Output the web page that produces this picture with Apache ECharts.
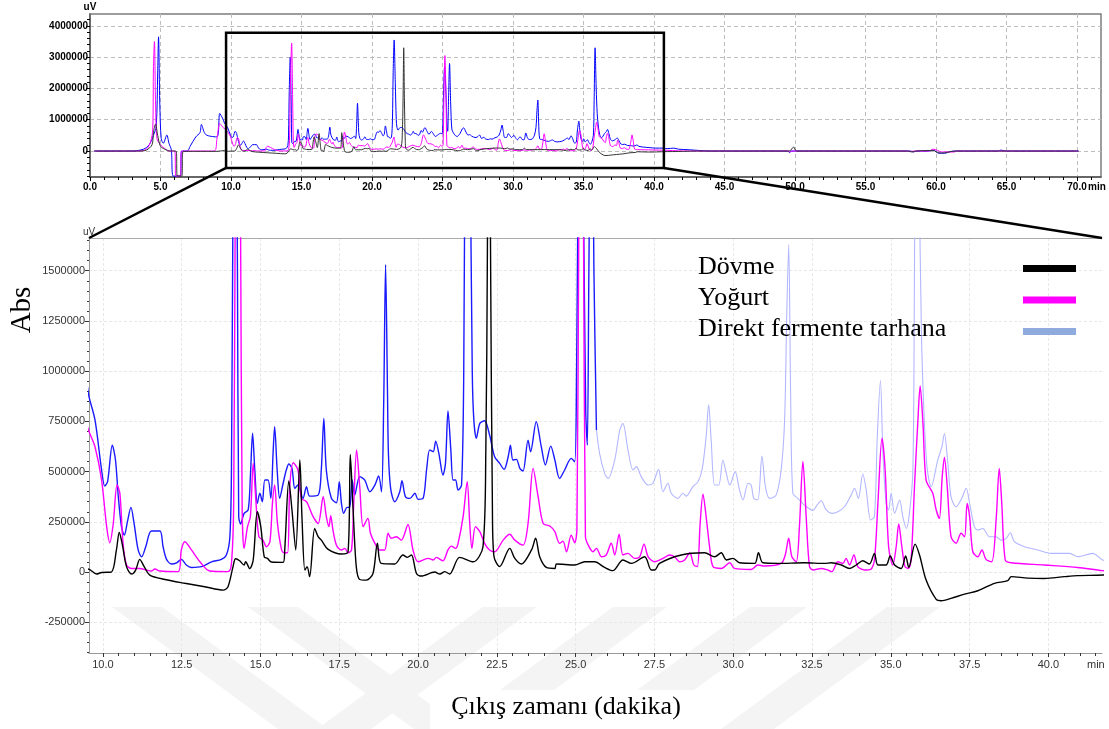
<!DOCTYPE html>
<html>
<head>
<meta charset="utf-8">
<style>
html, body { margin: 0; padding: 0; background: #fff; }
#chart { width: 1109px; height: 729px; }
</style>
<script src="https://cdn.jsdelivr.net/npm/echarts@6/dist/echarts.min.js"></script>
</head>
<body>
<div id="chart"></div>
<script>
// retention time (min), signal in thousand uV
var dovme = [
    [0.3, 0], [3.5, 0], [4.0, 30], [4.4, 200], [4.5, 600], [4.65, 860], [4.8, 500], [5.0, 150], [5.3, 60], [5.7, 0],
    [6.1, 0], [6.2, -800], [6.5, -800], [6.6, -20], [7.5, -10], [9.0, -10],
    [9.53, 15], [9.8, -10], [9.96, -2], [10.27, 0], [10.43, 110], [10.52, 197], [10.61, 143], [10.75, 27], [10.91, -10],
    [11.04, 10], [11.17, 63], [11.31, 27], [11.49, -15], [11.97, -37], [12.6, -56], [13.23, -73], [13.82, -90], [13.97, -73],
    [14.13, 27], [14.21, 66], [14.34, 56], [14.48, 35], [14.53, 51], [14.66, 17], [14.77, 60], [14.9, 300], [15.01, 226],
    [15.12, 76], [15.22, 68], [15.35, 50], [15.72, 48], [15.77, 110], [15.9, 453], [16.0, 309], [16.12, 110], [16.25, 558],
    [16.32, 259], [16.41, 10], [16.48, 27], [16.56, -23], [16.72, 217], [16.83, 176], [16.93, 159], [17.15, 113], [17.57, 90],
    [17.78, 101], [17.85, 586], [17.94, 309], [18.04, 27], [18.15, -37], [18.36, -40], [18.57, -7], [18.71, 143], [18.83, 43],
    [19.26, 40], [19.52, 85], [19.66, 73], [19.79, 85], [19.95, -7], [20.1, -20], [20.53, 0], [20.69, -10], [20.85, 2],
    [21.0, -10], [21.32, 73], [21.75, 51], [22.06, 126], [22.15, 600], [22.2, 1600], [22.25, 3300], [22.3, 1600], [22.36, 300],
    [22.41, 76], [22.59, 27], [22.91, 118], [23.07, 68], [23.28, 40], [23.6, 110], [23.73, 168], [23.86, 76], [24.07, 23],
    [24.34, 18], [24.39, 40], [24.97, 35], [25.29, 51], [25.6, 51], [25.92, 23], [26.18, 7], [26.5, 60], [26.77, 43],
    [27.19, 76], [27.4, 10], [27.51, 10], [27.66, 43], [28.35, 85], [29.09, 96], [29.41, 76], [29.62, 96], [29.78, 60],
    [29.99, 68], [30.2, 46], [30.68, 43], [30.8, 96], [30.94, 46], [31.42, 43], [32.26, 46], [32.9, 43], [33.11, 46],
    [33.43, 35], [33.69, 18], [33.9, 35], [34.11, 56], [34.32, 40], [34.48, 93], [34.59, 35], [34.85, 35], [34.98, 80],
    [35.12, 35], [35.33, 18], [35.47, 80], [35.57, 23], [35.77, 139], [35.91, 85], [36.12, -40], [36.44, -136], [36.6, -143],
    [36.91, -131], [37.34, -110], [37.76, -93], [38.29, -56], [38.71, -43], [38.82, -23], [39.34, -30], [39.87, -32],
    [40.51, -23], [40.93, -18], [41.72, -15],
    [43, 0], [49.6, 0], [49.9, 130], [50.1, 0], [58, 0], [58.3, -30], [58.6, 0], [59.8, 20], [60.2, -60], [60.6, -60],
    [61, -20], [61.5, 0], [70.1, 0]
];

var yogurt = [
    [0.3, 0], [3.5, 0], [4.0, 60], [4.3, 300], [4.45, 700], [4.5, 2700], [4.57, 3500], [4.65, 1500], [4.75, 400], [5.0, 200],
    [5.3, 80], [5.6, 0], [6.0, 0], [6.1, -800], [6.4, -800], [6.5, 0], [8.8, 0], [9.0, 380], [9.2, 880], [9.35, 800],
    [9.55, 704], [9.75, 624], [9.96, 458], [10.12, 226], [10.22, 146], [10.33, 242], [10.45, 433], [10.54, 392], [10.64, 143],
    [10.75, 35], [10.91, 18], [11.17, 18], [11.38, 10], [11.54, 5], [11.65, 15], [11.81, 5], [12.39, 2], [12.49, 110],
    [12.6, 151], [12.81, 110], [13.08, 51], [13.39, 5], [13.97, 2], [14.08, 43], [14.15, 342], [14.2, 1800], [14.3, 3450],
    [14.37, 1700], [14.42, 309], [14.48, 118], [14.59, 226], [14.68, 276], [14.77, 541], [14.86, 342], [14.95, 176],
    [15.08, 159], [15.19, 126], [15.3, 151], [15.38, 342], [15.45, 433], [15.54, 242], [15.67, 110], [15.75, 96], [15.86, 96],
    [15.93, 425], [16.04, 544], [16.19, 508], [16.3, 367], [16.46, 350], [16.67, 276], [16.83, 242], [16.99, 375], [17.09, 276],
    [17.17, 226], [17.23, 281], [17.3, 209], [17.41, 134], [17.57, 110], [17.68, 118], [17.78, 96], [17.89, 110], [17.96, 342],
    [18.05, 608], [18.15, 425], [18.26, 226], [18.41, 267], [18.49, 193], [18.63, 143], [18.78, 110], [18.94, 110], [19.05, 193],
    [19.15, 168], [19.31, 176], [19.47, 159], [19.68, 237], [19.84, 110], [20.0, 51], [20.32, 68], [20.48, 60], [20.58, 73],
    [20.79, 56], [20.95, 110], [21.06, 129], [21.19, 118], [21.27, 143], [21.43, 276], [21.56, 450], [21.64, 242], [21.71, 118],
    [21.82, 226], [21.96, 201], [22.11, 143], [22.27, 110], [22.43, 101], [22.7, 159], [22.91, 188], [23.07, 159], [23.33, 134],
    [23.49, 242], [23.65, 516], [23.81, 375], [23.97, 242], [24.18, 229], [24.34, 201], [24.49, 143], [24.6, 154], [24.71, 101],
    [24.86, 184], [24.97, 146], [25.04, 209], [25.1, 1700], [25.17, 3050], [25.25, 1700], [25.31, 176], [25.4, 134], [25.55, 101],
    [25.66, 118], [25.82, 76], [25.97, 85], [26.13, 143], [26.24, 85], [26.38, 189], [26.5, 85], [26.66, 93], [26.87, 68],
    [27.03, 76], [27.17, 139], [27.3, 76], [27.51, 51], [27.77, 68], [27.98, 85], [28.14, 76], [28.3, 51], [28.46, 60],
    [28.62, 96], [28.75, 35], [28.86, 27], [28.95, 242], [29.04, 388], [29.14, 276], [29.25, 126], [29.36, 27], [29.62, 18],
    [29.89, 46], [30.04, 18], [30.57, 13], [30.78, 35], [30.99, 30], [31.52, 43], [31.65, 85], [31.76, 168], [31.86, 76],
    [32.0, 51], [32.1, 226], [32.21, 550], [32.32, 259], [32.42, 27], [32.53, 10], [32.79, 18], [33.0, 10], [33.13, 2],
    [33.32, 51], [33.48, 43], [33.58, 68], [33.69, 35], [33.83, 85], [33.95, 27], [34.17, 10], [34.36, 13], [34.48, 60],
    [34.59, 342], [34.72, 666], [34.82, 508], [34.93, 126], [35.06, 35], [35.17, 126], [35.25, 239], [35.35, 126], [35.45, 27],
    [35.56, 18], [35.65, 76], [35.75, 425], [35.86, 757], [35.93, 926], [36.02, 740], [36.12, 458], [36.33, 392], [36.44, 309],
    [36.54, 267], [36.63, 475], [36.7, 571], [36.79, 425], [36.91, 176], [37.07, 143], [37.23, 193], [37.34, 176], [37.42, 342],
    [37.5, 276], [37.6, 101], [37.76, 76], [37.89, 110], [38.02, 63], [38.2, 51], [38.34, 259], [38.44, 516], [38.52, 342],
    [38.63, 60], [38.82, 46], [39.87, 35], [40.93, 23], [41.72, 7],
    [42.5, 0], [49.6, 0], [49.7, -30], [49.8, 0], [58, 0], [58.2, -20], [58.4, 0], [59.5, 0], [59.8, 60], [60.1, 20],
    [60.4, -30], [61.3, -30], [61.5, 0], [70.1, 0]
];

var direkt = [
    [0.3, 0], [3.0, 0], [3.8, 60], [4.2, 200], [4.5, 500], [4.7, 800], [4.8, 2500], [4.86, 3650], [4.95, 1500], [5.05, 400],
    [5.2, 250], [5.45, 510], [5.6, 250], [5.77, 35], [5.9, -800], [6.4, -800], [6.5, 0], [6.9, 0], [7.1, 150], [7.5, 450],
    [7.8, 590], [7.9, 850], [8.1, 600], [8.3, 500], [9.0, 450], [9.2, 1200], [9.4, 1050],
    [9.55, 881], [9.75, 757], [9.96, 508], [10.06, 428], [10.15, 450], [10.3, 632], [10.4, 558], [10.49, 375], [10.59, 226],
    [10.68, 184], [10.78, 251], [10.89, 322], [10.99, 242], [11.12, 110], [11.23, 76], [11.36, 126], [11.54, 204], [11.81, 204],
    [11.91, 126], [12.02, 63], [12.18, 40], [12.34, 46], [12.49, 63], [12.65, 35], [12.81, 23], [13.13, 27], [13.45, 51],
    [13.76, 63], [13.92, 85], [14.03, 176], [14.08, 508], [14.13, 1900], [14.2, 3000], [14.27, 1500], [14.31, 276], [14.37, 239],
    [14.48, 292], [14.61, 309], [14.68, 475], [14.75, 691], [14.82, 508], [14.9, 342], [14.98, 392], [15.06, 350], [15.14, 458],
    [15.24, 458], [15.33, 367], [15.4, 591], [15.45, 724], [15.53, 508], [15.61, 367], [15.72, 442], [15.82, 508], [15.9, 538],
    [16.0, 516], [16.09, 417], [16.19, 433], [16.35, 367], [16.46, 425], [16.56, 378], [16.83, 383], [16.93, 508], [17.01, 765],
    [17.09, 508], [17.25, 367], [17.41, 345], [17.5, 450], [17.57, 342], [17.64, 292], [17.75, 322], [17.83, 322], [17.91, 458],
    [17.99, 383], [18.15, 475], [18.31, 458], [18.47, 400], [18.63, 433], [18.75, 478], [18.84, 400], [18.91, 840], [18.97, 1530],
    [19.03, 900], [19.06, 591], [19.13, 417], [19.26, 350], [19.42, 400], [19.49, 455], [19.6, 375], [19.74, 367], [19.9, 392],
    [20.0, 362], [20.16, 367], [20.27, 508], [20.37, 608], [20.48, 599], [20.56, 652], [20.66, 591], [20.79, 483], [20.87, 541],
    [20.95, 802], [21.04, 608], [21.11, 458], [21.19, 458], [21.27, 408], [21.38, 433], [21.45, 1000], [21.5, 2500], [21.57, 3550],
    [21.65, 2200], [21.72, 1000], [21.77, 757], [21.85, 666], [21.96, 740], [22.11, 753], [22.27, 682], [22.43, 574], [22.59, 541],
    [22.73, 511], [22.86, 574], [22.93, 632], [23.01, 558], [23.12, 561], [23.23, 516], [23.33, 503], [23.49, 657], [23.57, 599],
    [23.75, 749], [23.91, 624], [24.04, 533], [24.21, 627], [24.34, 558], [24.49, 466], [24.65, 508], [24.86, 566], [24.97, 549],
    [25.03, 1000], [25.08, 2000], [25.15, 2700], [25.25, 1800], [25.32, 800], [25.37, 632], [25.42, 1500], [25.5, 2800],
    [25.58, 1500], [25.66, 707], [25.76, 591], [25.92, 491], [26.03, 466], [26.24, 558], [26.4, 707], [26.5, 740], [26.66, 608],
    [26.82, 508], [26.93, 525], [27.08, 475], [27.3, 433], [27.45, 442], [27.63, 511], [27.77, 400], [27.93, 442], [28.03, 392],
    [28.25, 367], [28.4, 392], [28.51, 378], [28.72, 425], [28.88, 450], [29.01, 508], [29.14, 674], [29.22, 832], [29.3, 657],
    [29.41, 433], [29.54, 433], [29.67, 558], [29.78, 491], [29.89, 433], [30.06, 500], [30.2, 408], [30.31, 359], [30.47, 442],
    [30.57, 433], [30.65, 367], [30.78, 359], [30.91, 578], [31.02, 425], [31.15, 367], [31.36, 383], [31.52, 508], [31.63, 757],
    [31.7, 1300], [31.76, 1630], [31.82, 900], [31.89, 392], [32.05, 367], [32.26, 333], [32.53, 307], [32.66, 333], [32.79, 355],
    [32.95, 309], [33.13, 292], [33.32, 300], [33.53, 325], [33.74, 383], [33.85, 417], [33.97, 367], [34.11, 488], [34.22, 408],
    [34.36, 259], [34.48, 276], [34.57, 674], [34.67, 953], [34.75, 591], [34.85, 342], [34.93, 309], [35.01, 392], [35.12, 292],
    [35.28, 359], [35.38, 276], [35.49, 217], [35.59, 292], [35.7, 508], [35.75, 1500], [35.82, 3300], [35.9, 2000], [35.97, 1200],
    [36.05, 800], [36.15, 520], [36.28, 425], [36.49, 558], [36.62, 624], [36.7, 690], [36.8, 558], [36.91, 375], [37.07, 325],
    [37.25, 367], [37.39, 417], [37.5, 342], [37.65, 226], [37.76, 209], [37.92, 217], [38.13, 176], [38.34, 176], [38.5, 159],
    [38.66, 168], [38.79, 196], [38.92, 151], [39.24, 126], [39.66, 110], [40.09, 93], [40.67, 93], [40.93, 76], [41.41, 93],
    [41.72, 60],
    [42.5, 40], [44, 0], [49.5, 0], [49.6, -50], [49.7, 0], [58.2, 0], [58.4, -30], [58.6, 0], [59.5, 0], [59.8, 30],
    [60.2, -70], [60.6, -70], [61, -20], [61.3, 0], [64.4, 0], [64.6, 30], [64.9, 0], [70.1, 0]
];

var seriesNames = ['Dövme', 'Yoğurt', 'Direkt fermente tarhana'];

// overview (top) axis ticks
var overviewTimeTicks = [0, 5, 10, 15, 20, 25, 30, 35, 40, 45, 50, 55, 60, 65, 70];
var overviewSignalTicks = [0, 1000000, 2000000, 3000000, 4000000];
// zoomed (bottom) axis ticks
var detailTimeTicks = [10, 12.5, 15, 17.5, 20, 22.5, 25, 27.5, 30, 32.5, 35, 37.5, 40];
var detailSignalTicks = [-250000, 0, 250000, 500000, 750000, 1000000, 1250000, 1500000];

// zoom window drawn on the overview: [t0, t1, v0, v1]
var zoomWindow = [9.65, 40.7, -540000, 3780000];
// in the zoomed plot the tarhana trace turns faint after this time
var fadeFrom = 25.66;

function toUV(arr) {
    return arr.map(function (p) { return [p[0], p[1] * 1000]; });
}

function minorTicks(from, to, step, majors) {
    var out = [];
    for (var v = from; v <= to + 1e-9; v += step) {
        var r = Math.round(v * 1000) / 1000;
        if (majors.indexOf(r) < 0) out.push(r);
    }
    return out;
}

var TOP_X = [0, 71.7];
var TOP_Y = [-830000, 4380000];
var BOT_X = [9.56, 41.7];
var BOT_Y = [-403000, 1663000];

var sans = "'Liberation Sans', Arial, sans-serif";
var serif = "'Liberation Serif', 'Times New Roman', serif";

var direktSolid = direkt.filter(function (p) { return p[0] <= fadeFrom; });
var direktFaint = direkt.filter(function (p) { return p[0] >= fadeFrom; });

var dom = document.getElementById('chart');
var myChart = echarts.init(dom, null, { renderer: 'canvas' });

var option = {
    animation: false,
    grid: [
        { left: 90, right: 8, top: 14, height: 163, show: true, borderColor: '#7d7d7d', borderWidth: 1.5 },
        { left: 89, right: 7, top: 238, height: 415 }
    ],
    xAxis: [
        {
            type: 'value', gridIndex: 0, min: TOP_X[0], max: TOP_X[1],
            axisLine: { onZero: false, lineStyle: { color: '#555', width: 1.5 } },
            axisTick: { customValues: overviewTimeTicks, length: 4, lineStyle: { color: '#000' } },
            axisLabel: {
                customValues: overviewTimeTicks, margin: 5, fontFamily: sans, fontWeight: 'bold', fontSize: 10, color: '#000',
                formatter: function (v) { return v.toFixed(1); }
            },
            splitLine: { show: true, lineStyle: { color: '#bdbdbd', type: [4, 3] } }
        },
        {
            type: 'value', gridIndex: 0, position: 'bottom', min: TOP_X[0], max: TOP_X[1],
            axisLine: { show: false, onZero: false }, axisLabel: { show: false }, splitLine: { show: false },
            axisTick: { customValues: minorTicks(0, 71, 1, overviewTimeTicks), length: 3, lineStyle: { color: '#000' } }
        },
        {
            type: 'value', gridIndex: 1, min: BOT_X[0], max: BOT_X[1],
            axisLine: { onZero: false, lineStyle: { color: '#999' } },
            axisTick: { customValues: detailTimeTicks, length: 4, lineStyle: { color: '#333' } },
            axisLabel: {
                customValues: detailTimeTicks, margin: 6, fontFamily: sans, fontSize: 11, color: '#333',
                formatter: function (v) { return v.toFixed(1); }
            },
            splitLine: { show: true, lineStyle: { color: '#e8e8e8', type: [3, 2] } }
        },
        {
            type: 'value', gridIndex: 1, position: 'bottom', min: BOT_X[0], max: BOT_X[1],
            axisLine: { show: false, onZero: false }, axisLabel: { show: false }, splitLine: { show: false },
            axisTick: { customValues: minorTicks(10, 41.5, 0.5, detailTimeTicks), length: 3, lineStyle: { color: '#333' } }
        },
        {
            type: 'value', gridIndex: 1, position: 'top', min: BOT_X[0], max: BOT_X[1],
            axisLine: { onZero: false, lineStyle: { color: '#aaa' } }, axisLabel: { show: false }, axisTick: { show: false },
            splitLine: { show: false }
        }
    ],
    yAxis: [
        {
            type: 'value', gridIndex: 0, min: TOP_Y[0], max: TOP_Y[1],
            name: 'uV', nameLocation: 'end', nameGap: 2,
            nameTextStyle: { fontFamily: sans, fontWeight: 'bold', fontSize: 10, color: '#000', align: 'center' },
            axisLine: { onZero: false, lineStyle: { color: '#555', width: 1.5 } },
            axisTick: { customValues: overviewSignalTicks, length: 4, lineStyle: { color: '#000' } },
            axisLabel: {
                customValues: overviewSignalTicks, margin: 2, fontFamily: sans, fontWeight: 'bold', fontSize: 10, color: '#000',
                formatter: function (v) { return String(v); }
            },
            splitLine: { show: true, lineStyle: { color: '#bdbdbd', type: [4, 3] } }
        },
        {
            type: 'value', gridIndex: 0, position: 'left', min: TOP_Y[0], max: TOP_Y[1],
            axisLine: { show: false, onZero: false }, axisLabel: { show: false }, splitLine: { show: false },
            axisTick: { customValues: minorTicks(-800000, 4200000, 200000, overviewSignalTicks), length: 3, lineStyle: { color: '#000' } }
        },
        {
            type: 'value', gridIndex: 1, min: BOT_Y[0], max: BOT_Y[1],
            name: 'uV', nameLocation: 'end', nameGap: 1,
            nameTextStyle: { fontFamily: sans, fontSize: 10, color: '#333', align: 'center' },
            axisLine: { onZero: false, lineStyle: { color: '#999' } },
            axisTick: { customValues: detailSignalTicks, length: 4, lineStyle: { color: '#333' } },
            axisLabel: {
                customValues: detailSignalTicks, margin: 4, fontFamily: sans, fontSize: 11, color: '#333',
                formatter: function (v) { return String(v); }
            },
            splitLine: { show: true, lineStyle: { color: '#e8e8e8', type: [3, 2] } }
        },
        {
            type: 'value', gridIndex: 1, position: 'left', min: BOT_Y[0], max: BOT_Y[1],
            axisLine: { show: false, onZero: false }, axisLabel: { show: false }, splitLine: { show: false },
            axisTick: { customValues: minorTicks(-400000, 1650000, 50000, detailSignalTicks), length: 2, lineStyle: { color: '#333' } }
        }
    ],
    series: [
        {
            name: seriesNames[2], type: 'line', xAxisIndex: 0, yAxisIndex: 0, data: toUV(direkt),
            showSymbol: false, smooth: 0.3, lineStyle: { color: '#0000ff', width: 1 }
        },
        {
            name: seriesNames[1], type: 'line', xAxisIndex: 0, yAxisIndex: 0, data: toUV(yogurt),
            showSymbol: false, smooth: 0.3, lineStyle: { color: '#ff00ff', width: 1 }
        },
        {
            name: seriesNames[0], type: 'line', xAxisIndex: 0, yAxisIndex: 0, data: toUV(dovme),
            showSymbol: false, smooth: 0.3, lineStyle: { color: '#333', width: 1 }
        },
        {
            name: seriesNames[2], type: 'line', xAxisIndex: 2, yAxisIndex: 2, data: toUV(direktSolid),
            showSymbol: false, smooth: 0.3, lineStyle: { color: '#1a1aff', width: 1.4 }
        },
        {
            name: seriesNames[2], type: 'line', xAxisIndex: 2, yAxisIndex: 2, data: toUV(direktFaint),
            showSymbol: false, smooth: 0.3, lineStyle: { color: '#b3b7ff', width: 1.1 }
        },
        {
            name: seriesNames[1], type: 'line', xAxisIndex: 2, yAxisIndex: 2, data: toUV(yogurt),
            showSymbol: false, smooth: 0.3, lineStyle: { color: '#ff00ff', width: 1.4 }
        },
        {
            name: seriesNames[0], type: 'line', xAxisIndex: 2, yAxisIndex: 2, data: toUV(dovme),
            showSymbol: false, smooth: 0.3, lineStyle: { color: '#000', width: 1.4 }
        }
    ]
};

myChart.setOption(option);

// zoom box, connector lines and 'min' unit labels, placed through the axes
var topFinder = { xAxisIndex: 0, yAxisIndex: 0 };
var botFinder = { xAxisIndex: 2, yAxisIndex: 2 };
var boxTL = myChart.convertToPixel(topFinder, [zoomWindow[0], zoomWindow[3]]);
var boxBR = myChart.convertToPixel(topFinder, [zoomWindow[1], zoomWindow[2]]);
var detTL = myChart.convertToPixel(botFinder, [BOT_X[0], BOT_Y[1]]);
var detTR = myChart.convertToPixel(botFinder, [BOT_X[1], BOT_Y[1]]);
var topEnd = myChart.convertToPixel(topFinder, [TOP_X[1], TOP_Y[0]]);
var detEnd = myChart.convertToPixel(botFinder, [BOT_X[1], BOT_Y[0]]);

var watermark = [
    [[112, 607], [162, 607], [328, 729], [278, 729]],
    [[248, 607], [298, 607], [464, 729], [414, 729]],
    [[483, 607], [537, 607], [371, 729], [317, 729]],
    [[613, 607], [667, 607], [501, 729], [447, 729]],
    [[750, 607], [807, 607], [641, 729], [584, 729]],
    [[887, 607], [940, 607], [774, 729], [721, 729]]
];

var legendRows = [
    { text: seriesNames[0], color: '#000000' },
    { text: seriesNames[1], color: '#ff00ff' },
    { text: seriesNames[2], color: '#8faadc' }
];

var graphics = [];
watermark.forEach(function (pts) {
    graphics.push({ type: 'polygon', z: -10, silent: true, shape: { points: pts }, style: { fill: '#f4f4f4' } });
});
graphics.push({
    type: 'rect', z: -5, shape: { x: 430, y: 690, width: 285, height: 39 }, style: { fill: '#fff' }
});
graphics.push({
    type: 'rect', z: 100,
    shape: { x: boxTL[0], y: boxTL[1], width: boxBR[0] - boxTL[0], height: boxBR[1] - boxTL[1] },
    style: { fill: null, stroke: '#000', lineWidth: 2.5 }
});
graphics.push({
    type: 'line', z: 100, shape: { x1: boxTL[0], y1: boxBR[1], x2: detTL[0], y2: detTL[1] },
    style: { stroke: '#000', lineWidth: 2.5 }
});
graphics.push({
    type: 'line', z: 100, shape: { x1: boxBR[0], y1: boxBR[1], x2: detTR[0], y2: detTR[1] },
    style: { stroke: '#000', lineWidth: 2.5 }
});
graphics.push({
    type: 'text', z: 100, x: topEnd[0] - 13, y: topEnd[1] + 10,
    style: { text: 'min', font: 'bold 10px ' + sans, fill: '#000', textAlign: 'left', textVerticalAlign: 'middle' }
});
graphics.push({
    type: 'text', z: 100, x: detEnd[0] - 15, y: detEnd[1] + 12,
    style: { text: 'min', font: '11px ' + sans, fill: '#333', textAlign: 'left', textVerticalAlign: 'middle' }
});
legendRows.forEach(function (row, i) {
    graphics.push({
        type: 'text', z: 100, x: 698, y: 267 + i * 31,
        style: { text: row.text, font: '26px ' + serif, fill: '#000', textVerticalAlign: 'middle', textAlign: 'left' }
    });
    graphics.push({
        type: 'rect', z: 100, shape: { x: 1023, y: 265 + i * 31.5, width: 53, height: 7 }, style: { fill: row.color }
    });
});
graphics.push({
    type: 'text', z: 100, x: 22, y: 310, rotation: Math.PI / 2,
    style: { text: 'Abs', font: '29px ' + serif, fill: '#000', textAlign: 'center', textVerticalAlign: 'middle' }
});
graphics.push({
    type: 'text', z: 100, x: 566, y: 707,
    style: { text: 'Çıkış zamanı (dakika)', font: '26px ' + serif, fill: '#000', textAlign: 'center', textVerticalAlign: 'middle' }
});

myChart.setOption({ graphic: graphics });

window.addEventListener('resize', myChart.resize);
</script>
</body>
</html>
